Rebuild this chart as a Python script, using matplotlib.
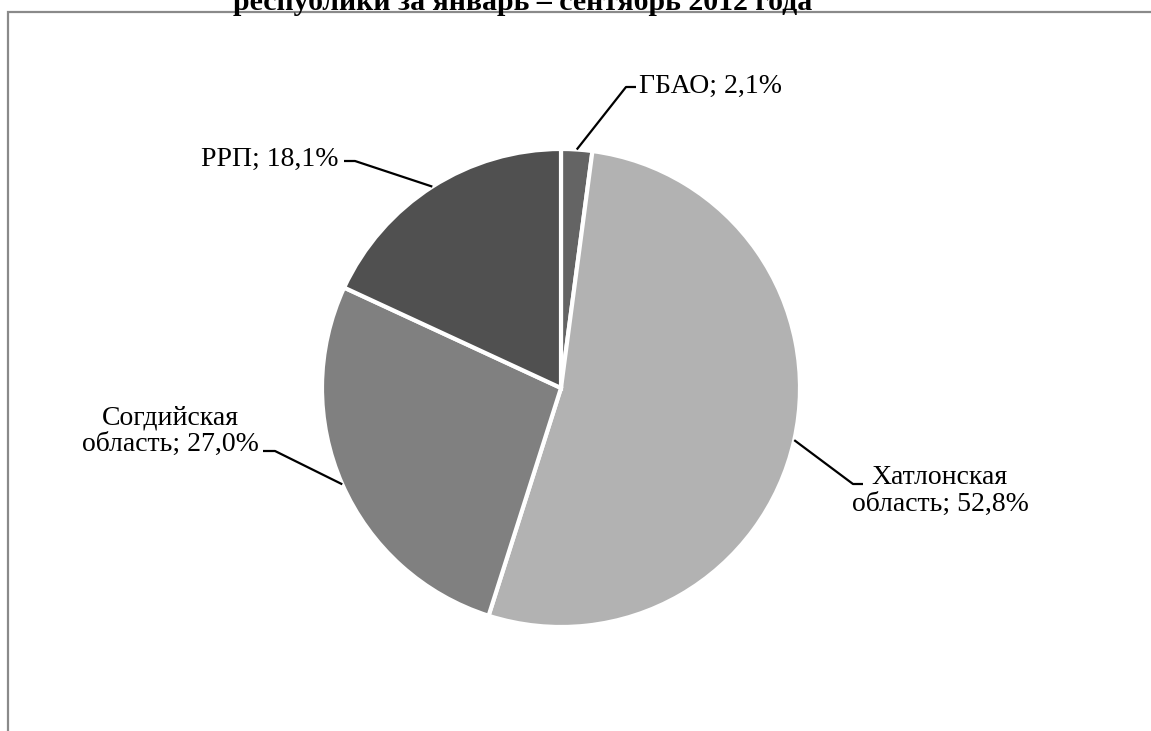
import numpy as np
import matplotlib
matplotlib.use("Agg")
import matplotlib.pyplot as plt

# ---------------------------------------------------------------------
# Data
# ---------------------------------------------------------------------
regions = ["ГБАО", "Хатлонская\nобласть", "Согдийская\nобласть", "РРП"]
shares = [2.1, 52.8, 27.0, 18.1]
colors = ["#646464", "#b2b2b2", "#808080", "#505050"]
title = "республики за январь – сентябрь 2012 года"

# label layout (pixel coords, y from top): elbow point, line end, text anchor
elbows = [(626, 87), (853, 484), (275, 451), (355, 161)]
ends = [(636, 87), (863, 484), (263, 451), (344, 161)]
text_pos = [(639, 86), (940, 491), (259, 431), (339, 159)]
text_ha = ["left", "center", "right", "right"]

W, H = 1151, 731
fig = plt.figure(figsize=(W / 100, H / 100), dpi=100)
ax = fig.add_axes([0, 0, 1, 1])

serif = ["Liberation Serif", "DejaVu Serif"]

# pie
cx, cy, r = 561, H - 388, 239
wedges, _ = ax.pie(shares, colors=colors, startangle=90, counterclock=False,
                   center=(cx, cy), radius=r, frame=True,
                   wedgeprops=dict(edgecolor="white", linewidth=3))
ax.set_xlim(0, W)
ax.set_ylim(0, H)
ax.set_aspect("equal")
ax.axis("off")

# chart frame (clipped by the picture edge)
ax.plot([8.5, 8.5, W + 5], [-5, H - 12, H - 12], color="#8a8a8a", lw=1.6,
        solid_joinstyle="miter")

# title (partially cut at the top)
ax.text(523, H - 10, title, ha="center", va="baseline", fontsize=21.5,
        fontweight="bold", family=serif)

for w, name, val, el, en, tp, ha in zip(wedges, regions, shares, elbows, ends,
                                        text_pos, text_ha):
    mid = np.deg2rad((w.theta1 + w.theta2) / 2)
    sx, sy = cx + r * np.cos(mid), cy + r * np.sin(mid)
    ax.plot([sx, el[0], en[0]], [sy, H - el[1], H - en[1]], color="black",
            lw=1.6, solid_capstyle="butt")
    label = f"{name}; {val:.1f}%".replace(".", ",")
    ax.text(tp[0], H - tp[1], label, ha=ha, va="center", fontsize=20,
            family=serif, multialignment="center", linespacing=1.1)

fig.savefig("out.png", dpi=100)
